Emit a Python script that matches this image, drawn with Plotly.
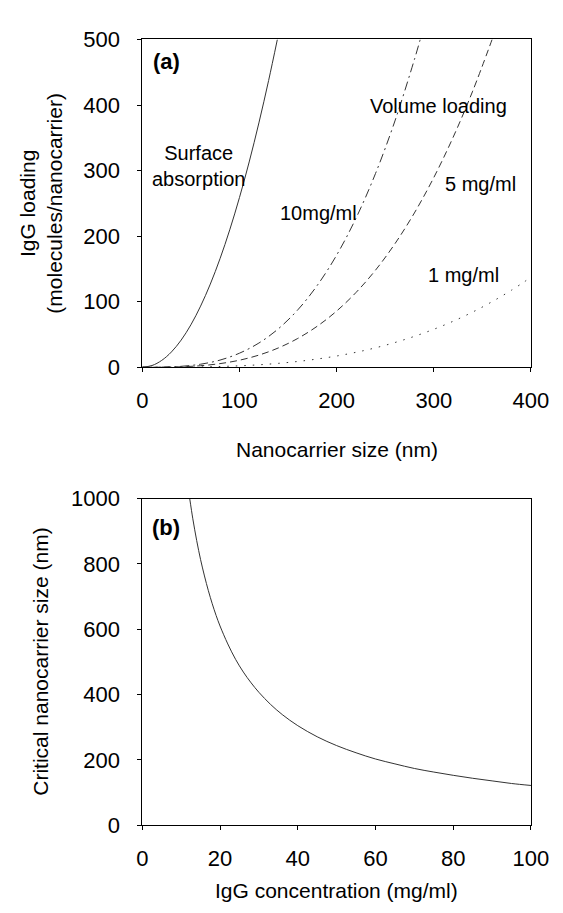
import plotly.graph_objects as go

# ---- Panel (a): IgG loading vs nanocarrier size ----
size_surface = [0, 10, 20, 30, 40, 50, 60, 70, 80, 90, 100, 110, 120, 130, 139]
load_surface = [0, 2.6, 10.4, 23.3, 41.4, 64.7, 93.2, 126.8, 165.6, 209.6, 258.8, 313.1, 372.7, 437.4, 500]

size_10 = [0, 20, 40, 60, 80, 100, 120, 140, 160, 180, 200, 220, 240, 260, 280, 286]
load_10 = [0, 0.17, 1.37, 4.6, 10.9, 21.4, 36.9, 58.6, 87.5, 124.7, 171, 227.6, 295.5, 375.7, 469.2, 500]

size_5 = [0, 20, 40, 60, 80, 100, 120, 140, 160, 180, 200, 220, 240, 260, 280, 300, 320, 340, 360]
load_5 = [0, 0.09, 0.69, 2.3, 5.5, 10.7, 18.5, 29.4, 43.9, 62.5, 85.7, 114.1, 148.1, 188.4, 235.3, 289.4, 351.2, 421.2, 500]

size_1 = [0, 20, 40, 60, 80, 100, 120, 140, 160, 180, 200, 220, 240, 260, 280, 300, 320, 340, 360, 380, 400]
load_1 = [0, 0.02, 0.14, 0.46, 1.1, 2.14, 3.7, 5.9, 8.8, 12.5, 17.1, 22.8, 29.6, 37.7, 47.1, 57.9, 70.2, 84.2, 100, 117.6, 137.2]

# ---- Panel (b): critical nanocarrier size vs IgG concentration ----
conc = [12.2, 13, 14, 15, 16, 17, 18, 19, 20, 22, 24, 26, 28, 30, 33, 36, 40, 45, 50, 55, 60,
        65, 70, 75, 80, 85, 90, 95, 100]
crit_size = [1000, 938, 871, 813, 763, 718, 678, 642, 610, 555, 508, 469, 436, 407, 370, 339,
             305, 271, 244, 222, 203, 188, 174, 163, 153, 144, 136, 128, 122]

xticks_a = [0, 100, 200, 300, 400]
yticks_a = [0, 100, 200, 300, 400, 500]
xticks_b = [0, 20, 40, 60, 80, 100]
yticks_b = [0, 200, 400, 600, 800, 1000]

W, H = 563, 913
def px(x):
    return x / W
def py(y):
    return 1 - y / H

FONT = "Liberation Sans, Arial, sans-serif"
LINE = "#333333"

fig = go.Figure()
fig.add_trace(go.Scatter(x=size_surface, y=load_surface, mode="lines", line_shape="spline",
                         line=dict(color=LINE, width=1), xaxis="x", yaxis="y"))
fig.add_trace(go.Scatter(x=size_10, y=load_10, mode="lines", line_shape="spline",
                         line=dict(color=LINE, width=1, dash="9px,4px,2px,4px"), xaxis="x", yaxis="y"))
fig.add_trace(go.Scatter(x=size_5, y=load_5, mode="lines", line_shape="spline",
                         line=dict(color=LINE, width=1, dash="7px,4px"), xaxis="x", yaxis="y"))
fig.add_trace(go.Scatter(x=size_1, y=load_1, mode="lines", line_shape="spline",
                         line=dict(color=LINE, width=1, dash="1.5px,7px"), xaxis="x", yaxis="y"))
fig.add_trace(go.Scatter(x=conc, y=crit_size, mode="lines", line_shape="spline",
                         line=dict(color=LINE, width=1), xaxis="x2", yaxis="y2"))

axis_common = dict(showgrid=False, zeroline=False, showline=True, linecolor="black",
                   linewidth=1, mirror=True, ticks="outside", ticklen=4, tickcolor="black",
                   tickfont=dict(family=FONT, size=22, color="black"))

fig.update_layout(
    width=W, height=H, showlegend=False,
    paper_bgcolor="white", plot_bgcolor="white",
    margin=dict(l=0, r=0, t=0, b=0),
    xaxis=dict(domain=[px(134), px(540)], range=[0, 400], tickvals=xticks_a,
               anchor="y", ticklabelstandoff=9, **axis_common),
    yaxis=dict(domain=[py(357), py(20)], range=[0, 500], tickvals=yticks_a,
               anchor="x", ticklabelstandoff=13, **axis_common),
    xaxis2=dict(domain=[px(134), px(540)], range=[0, 100], tickvals=xticks_b,
                anchor="y2", ticklabelstandoff=9, **axis_common),
    yaxis2=dict(domain=[py(828), py(492)], range=[0, 1000], tickvals=yticks_b,
                anchor="x2", ticklabelstandoff=13, **axis_common),
)

ann_font = dict(family=FONT, size=20, color="black")
title_font = dict(family=FONT, size=21, color="black")
annotations = [
    dict(text="<b>(a)</b>", x=25, y=466, xref="x", yref="y", font=dict(family=FONT, size=22, color="black")),
    dict(text="Surface<br>absorption", x=58, y=307, xref="x", yref="y", font=ann_font),
    dict(text="Volume loading", x=305, y=399, xref="x", yref="y", font=ann_font),
    dict(text="5 mg/ml", x=348, y=280, xref="x", yref="y", font=ann_font),
    dict(text="10mg/ml", x=181, y=236, xref="x", yref="y", font=ann_font),
    dict(text="1 mg/ml", x=331, y=141, xref="x", yref="y", font=ann_font),
    dict(text="<b>(b)</b>", x=6.2, y=911, xref="x2", yref="y2", font=dict(family=FONT, size=22, color="black")),
    dict(text="Nanocarrier size (nm)", x=px(337), y=py(442), xref="paper", yref="paper", font=title_font),
    dict(text="IgG concentration (mg/ml)", x=px(337), y=py(895), xref="paper", yref="paper", font=title_font),
    dict(text="IgG loading<br>(molecules/nanocarrier)", x=px(28), y=py(188), xref="paper", yref="paper",
         textangle=-90, font=title_font),
    dict(text="Critical nanocarrier size (nm)", x=px(28), y=py(660), xref="paper", yref="paper",
         textangle=-90, font=title_font),
]
for a in annotations:
    a.update(showarrow=False, xanchor="center", yanchor="middle")
fig.update_layout(annotations=annotations)

fig.write_html("out.html")
